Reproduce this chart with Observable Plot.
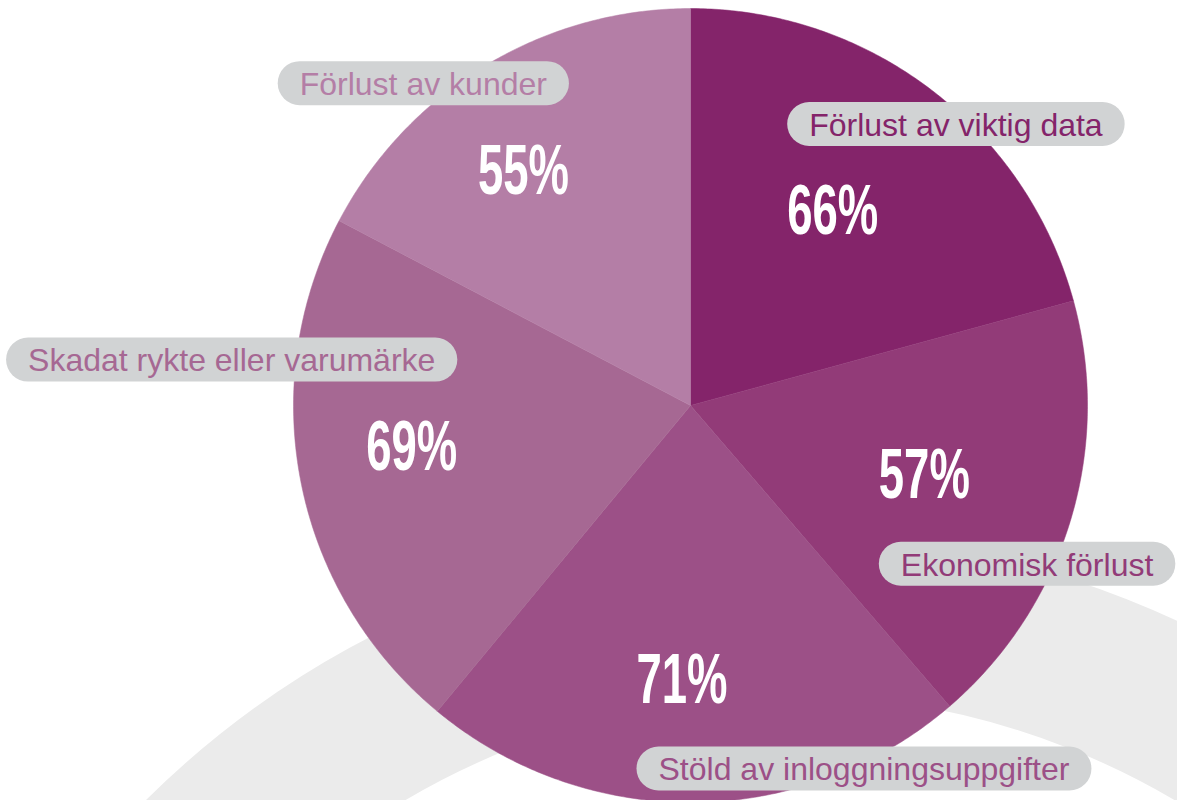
<!DOCTYPE html>
<html>
<head>
<meta charset="utf-8">
<script src="https://cdn.jsdelivr.net/npm/d3@7"></script>
<script src="https://cdn.jsdelivr.net/npm/@observablehq/plot@0.6"></script>
<style>
  html, body { margin: 0; padding: 0; background: #ffffff; }
  #wrap { position: relative; width: 1177px; height: 800px; overflow: hidden; }
  #ring { position: absolute; left: -125px; top: 535px; width: 1830px; height: 1830px;
          box-sizing: border-box; border: 160px solid #ebebeb; border-radius: 50%; }
  #chart { position: absolute; left: 0; top: 0; }
</style>
</head>
<body>
<div id="wrap"><div id="ring"></div><div id="chart"></div></div>
<script>
// ---- data ----
const categories = [
  "Förlust av viktig data",
  "Ekonomisk förlust",
  "Stöld av inloggningsuppgifter",
  "Skadat rykte eller varumärke",
  "Förlust av kunder"
];
const values = [66, 57, 71, 69, 55];
const sliceColors = ["#84246a", "#923b78", "#9c5087", "#a66893", "#b47ea6"];
// label layout: % label placed at a fraction of the slice's angle and radius; pill above/below it
const labelAngleFrac = [0.486, 0.496, 0.529, 0.535, 0.43];
const labelRadius = [0.605, 0.615, 0.693, 0.71, 0.725];
const pillAbove = [true, false, false, true, true];
const pillAlign = ["start", "start", "start", "end", "end"];

// ---- layout ----
const W = 1177, H = 800, R = 397, CX = 690, CY = 405;
const PCT_SIZE = 70, PCT_SCALE = 0.65, PILL_SIZE = 32, PILL_H = 44, PILL_PAD = 22, PILL_GAP = 88;

const rows = categories.map((cat, i) => ({cat, value: values[i], i}));
const arcs = d3.pie().sort(null).value(d => d.value)(rows);

// slice polygons
const slicePts = [];
for (const a of arcs) {
  const cat = a.data.cat;
  slicePts.push({cat, x: 0, y: 0});
  const n = Math.max(2, Math.ceil((a.endAngle - a.startAngle) / (Math.PI / 360)));
  for (let k = 0; k <= n; k++) {
    const t = a.startAngle + (a.endAngle - a.startAngle) * k / n;
    slicePts.push({cat, x: R * Math.sin(t), y: R * Math.cos(t)});
  }
  slicePts.push({cat, x: 0, y: 0});
}

// text measuring
const ctx = document.createElement("canvas").getContext("2d");
function measure(text, font) { ctx.font = font; return ctx.measureText(text).width; }

const pctRows = [], pillRows = [];
for (const a of arcs) {
  const i = a.data.i;
  const ang = a.startAngle + (a.endAngle - a.startAngle) * labelAngleFrac[i];
  const r = labelRadius[i] * R;
  const x = r * Math.sin(ang), y = r * Math.cos(ang);
  const label = a.data.value + "%";
  pctRows.push({x, y, label});
  const pw = measure(label, `bold ${PCT_SIZE}px 'Liberation Sans'`) * PCT_SCALE;
  const tw = measure(a.data.cat, `${PILL_SIZE}px 'Liberation Sans'`);
  let left, right;
  if (pillAlign[i] === "start") { left = x - pw / 2; right = left + tw + 2 * PILL_PAD; }
  else { right = x + pw / 2; left = right - tw - 2 * PILL_PAD; }
  const py = y + (pillAbove[i] ? PILL_GAP : -PILL_GAP);
  pillRows.push({cat: a.data.cat, l: left + PILL_H / 2, r: right - PILL_H / 2, cx: (left + right) / 2, y: py});
}

const plot = Plot.plot({
  width: W, height: H, margin: 0,
  x: {domain: [-CX, W - CX], axis: null},
  y: {domain: [-(H - CY), CY], axis: null},
  color: {domain: categories, range: sliceColors},
  style: {background: "transparent"},
  marks: [
    Plot.line(slicePts, {x: "x", y: "y", z: "cat", fill: "cat", stroke: "cat", strokeWidth: 0.5, curve: "linear"}),
    Plot.text(pctRows, {x: "x", y: "y", text: "label", fill: "white", fontSize: PCT_SIZE, fontWeight: "bold",
      fontFamily: "Liberation Sans", textAnchor: "middle", lineAnchor: "middle", ariaDescription: "pct"}),
    Plot.link(pillRows, {x1: "l", x2: "r", y1: "y", y2: "y", stroke: "#d1d3d4", strokeWidth: PILL_H, strokeLinecap: "round"}),
    Plot.text(pillRows, {x: "cx", y: "y", text: "cat", fill: "cat", fontSize: PILL_SIZE,
      fontFamily: "Liberation Sans", textAnchor: "middle", lineAnchor: "middle", dy: 1.5})
  ]
});
document.getElementById("chart").appendChild(plot);

// condense the percentage labels horizontally (positions re-derived from the plot's own scales)
const xs = plot.scale("x"), ys = plot.scale("y");
let pctTexts = plot.querySelectorAll('g[aria-description="pct"] text');
if (!pctTexts.length) pctTexts = plot.querySelectorAll('g[fill="white"] text');
pctTexts.forEach((t, k) => {
  const d = pctRows[k];
  if (!d) return;
  const px = xs.apply(d.x), py = ys.apply(d.y);
  if (t.hasAttribute("x") && !isNaN(+t.getAttribute("x"))) t.removeAttribute("x");
  t.setAttribute("transform", `translate(${px},${py}) scale(${PCT_SCALE},1)`);
});
</script>
</body>
</html>
